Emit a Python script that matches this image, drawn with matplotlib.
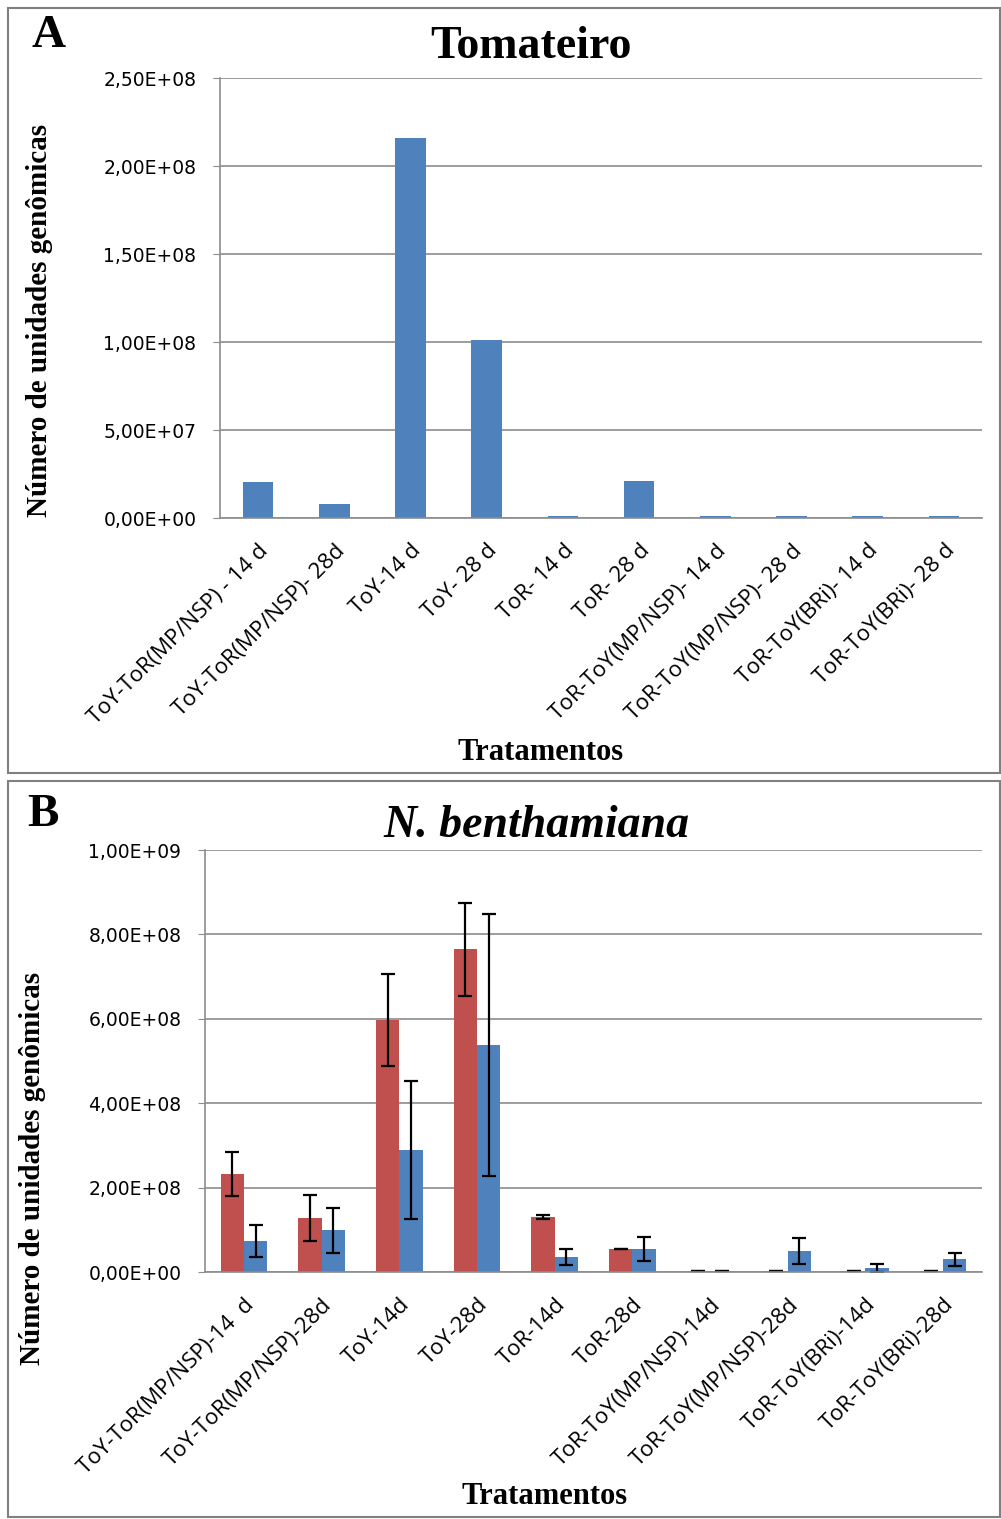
import matplotlib.pyplot as plt
from matplotlib.patches import Rectangle
from matplotlib.ticker import FuncFormatter
import numpy as np

# ---- data ----
labels_a = ["ToY-ToR(MP/NSP) - 14 d", "ToY-ToR(MP/NSP)- 28d", "ToY-14 d", "ToY- 28 d",
            "ToR- 14 d", "ToR- 28 d", "ToR-ToY(MP/NSP)- 14 d", "ToR-ToY(MP/NSP)- 28 d",
            "ToR-ToY(BRi)- 14 d", "ToR-ToY(BRi)- 28 d"]
tomate = [2.05e7, 8.0e6, 2.16e8, 1.01e8, 1.0e6, 2.1e7, 1.0e6, 1.0e6, 1.0e6, 1.0e6]

labels_b = ["ToY-ToR(MP/NSP)-14  d", "ToY-ToR(MP/NSP)-28d", "ToY-14d", "ToY-28d",
            "ToR-14d", "ToR-28d", "ToR-ToY(MP/NSP)-14d", "ToR-ToY(MP/NSP)-28d",
            "ToR-ToY(BRi)-14d", "ToR-ToY(BRi)-28d"]
nb_red = [2.32e8, 1.28e8, 5.97e8, 7.65e8, 1.30e8, 0.55e8, 0.03e8, 0.03e8, 0.03e8, 0.03e8]
nb_red_err = [0.52e8, 0.54e8, 1.09e8, 1.10e8, 0.04e8, 0.0, 0.0, 0.0, 0.0, 0.0]
nb_blue = [0.73e8, 0.99e8, 2.89e8, 5.38e8, 0.36e8, 0.55e8, 0.03e8, 0.50e8, 0.10e8, 0.30e8]
nb_blue_err = [0.38e8, 0.53e8, 1.64e8, 3.10e8, 0.19e8, 0.28e8, 0.0, 0.30e8, 0.09e8, 0.15e8]

BLUE = "#4F81BD"
RED = "#C0504D"
GRID = "#8c8c8c"

def sci_comma(v, pos):
    s = "%.2E" % v
    return s.replace(".", ",")

def style_axes(ax, labels, ymax, step):
    ax.set_ylim(0, ymax)
    ax.set_yticks(np.arange(0, ymax + step / 2, step))
    ax.yaxis.set_major_formatter(FuncFormatter(sci_comma))
    ax.set_xlim(-0.5, len(labels) - 0.5)
    ax.set_xticks(np.arange(len(labels)))
    ax.set_xticklabels(labels, rotation=45, ha="right", rotation_mode="anchor",
                       family="Open Sans", fontsize=16)
    ax.tick_params(axis="x", length=0, pad=16)
    ax.tick_params(axis="y", length=5, color=GRID, pad=12, labelsize=13.5)
    for lab in ax.get_yticklabels():
        lab.set_family("DejaVu Sans")
    ax.grid(axis="y", color=GRID, linewidth=1.2)
    ax.set_axisbelow(True)
    for s in ["top", "right"]:
        ax.spines[s].set_visible(False)
    ax.spines["left"].set_color(GRID)
    ax.spines["bottom"].set_color(GRID)
    ax.spines["left"].set_linewidth(1.2)
    ax.spines["bottom"].set_linewidth(1.2)

W, H = 1001, 1519
fig = plt.figure(figsize=(W / 100, H / 100), dpi=100)

# panel frames
fig.patches.append(Rectangle((8 / W, 1 - 773 / H), 992 / W, 765 / H, transform=fig.transFigure,
                             fill=False, edgecolor="#808080", linewidth=1.5))
fig.patches.append(Rectangle((8 / W, 1 - 1517 / H), 992 / W, 736 / H, transform=fig.transFigure,
                             fill=False, edgecolor="#808080", linewidth=1.5))

# ---- panel A ----
axA = fig.add_axes([220 / W, 1 - 518 / H, 762 / W, 440 / H])
x = np.arange(len(labels_a))
axA.bar(x, tomate, width=0.4, color=BLUE)
style_axes(axA, labels_a, 2.5e8, 5e7)

fig.text(49 / W, 1 - 36 / H, "A", family="Liberation Serif", weight="bold", fontsize=34,
         ha="center", va="center")
fig.text(531 / W, 1 - 47 / H, "Tomateiro", family="Liberation Serif", weight="bold", fontsize=33,
         ha="center", va="center")
fig.text(40 / W, 1 - 320 / H, "Número de unidades genômicas", family="Liberation Serif",
         weight="bold", fontsize=21, rotation=90, ha="center", va="center")
fig.text(541 / W, 1 - 752 / H, "Tratamentos", family="Liberation Serif", weight="bold",
         fontsize=22, ha="center", va="center")

# ---- panel B ----
axB = fig.add_axes([205 / W, 1 - 1272 / H, 777 / W, 422 / H])
xb = np.arange(len(labels_b))
ekw = dict(ecolor="black", elinewidth=1.6, capsize=5, capthick=1.6)
axB.bar(xb - 0.15, nb_red, width=0.3, color=RED, yerr=nb_red_err, error_kw=ekw)
axB.bar(xb + 0.15, nb_blue, width=0.3, color=BLUE, yerr=nb_blue_err, error_kw=ekw)
style_axes(axB, labels_b, 1.0e9, 2e8)

fig.text(43 / W, 1 - 815 / H, "B", family="Liberation Serif", weight="bold", fontsize=34,
         ha="center", va="center")
fig.text(536 / W, 1 - 826 / H, "N. benthamiana", family="Liberation Serif", weight="bold",
         style="italic", fontsize=33, ha="center", va="center")
fig.text(33 / W, 1 - 1168 / H, "Número de unidades genômicas", family="Liberation Serif",
         weight="bold", fontsize=21, rotation=90, ha="center", va="center")
fig.text(545 / W, 1 - 1497 / H, "Tratamentos", family="Liberation Serif", weight="bold",
         fontsize=22, ha="center", va="center")

fig.savefig("out.png", dpi=100)
